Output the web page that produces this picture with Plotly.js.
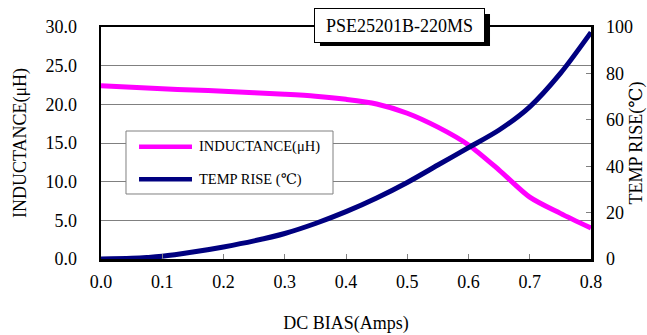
<!DOCTYPE html>
<html>
<head>
<meta charset="utf-8">
<script src="https://cdn.plot.ly/plotly-3.0.1.min.js"></script>
<style>html,body{margin:0;padding:0;background:#fff;}#chart{width:647px;height:335px;}</style>
</head>
<body>
<div id="chart"></div>
<script>
// ---- data ----
const biasAmps = [0, 0.05, 0.1, 0.15, 0.2, 0.25, 0.3, 0.35, 0.4, 0.45, 0.5, 0.55, 0.6, 0.65, 0.7, 0.75, 0.8];
const inductanceUH = [22.4, 22.2, 22.0, 21.85, 21.7, 21.5, 21.3, 21.05, 20.65, 20.05, 18.85, 17.05, 14.75, 11.5, 8.0, 5.9, 4.0];
const tempRiseC = [0, 0.3, 1.2, 3.0, 5.2, 7.8, 11.0, 15.3, 20.4, 26.3, 33.0, 40.5, 48.0, 55.6, 65.6, 80.0, 97.7];
const xTicks = [0, 0.1, 0.2, 0.3, 0.4, 0.5, 0.6, 0.7, 0.8];
const leftTicks = [0, 5, 10, 15, 20, 25, 30];
const rightTicks = [0, 20, 40, 60, 80, 100];
const seriesNames = ['INDUCTANCE(\u03bcH)', 'TEMP RISE (\u2103)'];
const seriesColors = ['#FF00FF', '#000080'];
const chartTitle = 'PSE25201B-220MS';

const FONT = '"Liberation Serif", "Times New Roman", "DejaVu Serif", serif';

const traces = [
  {x: biasAmps, y: inductanceUH, name: seriesNames[0], type: 'scatter', mode: 'lines',
   line: {color: seriesColors[0], width: 5, shape: 'spline', smoothing: 0.8}, yaxis: 'y', showlegend: false},
  {x: biasAmps, y: tempRiseC, name: seriesNames[1], type: 'scatter', mode: 'lines',
   line: {color: seriesColors[1], width: 5, shape: 'spline', smoothing: 0.8}, yaxis: 'y2', showlegend: false, cliponaxis: false}
];

// legend drawn as a framed box with line samples (paper coordinates)
const legX0 = 0.0510, legX1 = 0.4735, legY0 = 0.2802, legY1 = 0.5517;
const sampleX0 = 0.0776, sampleX1 = 0.1857, textX = 0.1959;
const rowY = [0.4841, 0.3435];

const shapes = [
  {type: 'rect', xref: 'paper', yref: 'paper', x0: 0.4469, x1: 0.7939, y0: 0.918, y1: 1.056,
   fillcolor: '#000', line: {width: 0}, layer: 'above'},
  {type: 'rect', xref: 'paper', yref: 'paper', x0: legX0, x1: legX1, y0: legY0, y1: legY1,
   fillcolor: '#fff', line: {color: '#808080', width: 1}, layer: 'above'}
];
const annotations = [
  {text: chartTitle, xref: 'paper', yref: 'paper', x: 0.6092, y: 1.0065, xanchor: 'center', yanchor: 'middle',
   showarrow: false, bgcolor: '#fff', bordercolor: '#000', borderwidth: 1, width: 167, height: 31,
   font: {family: FONT, size: 18, color: '#000'}}
];
seriesNames.forEach(function (nm, i) {
  shapes.push({type: 'line', xref: 'paper', yref: 'paper', x0: sampleX0, x1: sampleX1, y0: rowY[i], y1: rowY[i],
    line: {color: seriesColors[i], width: 4.5}, layer: 'above'});
  annotations.push({text: nm, xref: 'paper', yref: 'paper', x: textX, y: rowY[i], xanchor: 'left', yanchor: 'middle',
    showarrow: false, font: {family: FONT, size: 14.5, color: '#000'}});
});

const layout = {
  width: 647, height: 335,
  margin: {l: 101, r: 56, t: 27, b: 76, pad: 0},
  paper_bgcolor: '#fff', plot_bgcolor: '#fff',
  font: {family: FONT, size: 18, color: '#000'},
  showlegend: false,
  xaxis: {range: [0, 0.8], tickvals: xTicks, tickformat: '.1f', ticks: 'inside', ticklen: 5,
    tickcolor: '#808080', showgrid: false, zeroline: false, showline: true, linecolor: '#000',
    linewidth: 2.5, mirror: true, ticklabelstandoff: 5,
    title: {text: 'DC BIAS(Amps)', font: {family: FONT, size: 18}, standoff: 26}},
  yaxis: {range: [0, 30], tickvals: leftTicks, tickformat: '.1f', ticks: '', showgrid: true,
    gridcolor: '#808080', gridwidth: 1, zeroline: false, showline: true, linecolor: '#000',
    linewidth: 2.5, mirror: true, ticklabelstandoff: 18,
    title: {text: 'INDUCTANCE(\u03bcH)', font: {family: FONT, size: 18}, standoff: 14}},
  yaxis2: {range: [0, 100], tickvals: rightTicks, overlaying: 'y', side: 'right', ticks: 'inside',
    ticklen: 5, tickcolor: '#808080', showgrid: false, zeroline: false, showline: false,
    ticklabelstandoff: 14,
    title: {text: 'TEMP RISE(\u2103)', font: {family: FONT, size: 18}, standoff: 8}},
  shapes: shapes,
  annotations: annotations
};

Plotly.newPlot('chart', traces, layout, {displayModeBar: false, staticPlot: true});
</script>
</body>
</html>
